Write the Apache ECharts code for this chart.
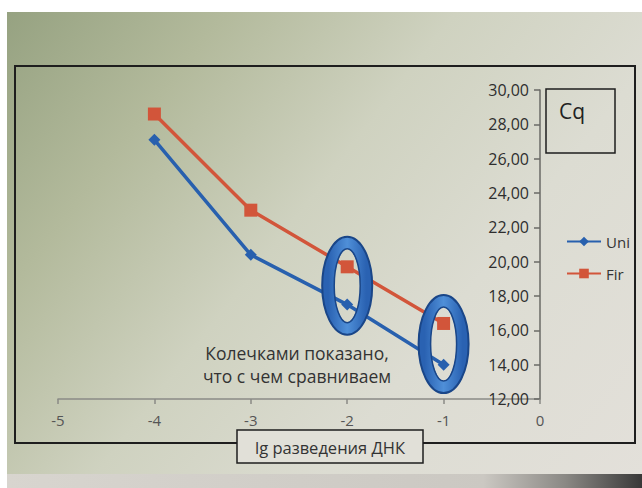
<!DOCTYPE html>
<html>
<head>
<meta charset="utf-8">
<script src="https://cdn.jsdelivr.net/npm/echarts@6/dist/echarts.min.js"></script>
<style>
  html, body { margin: 0; padding: 0; background: #ffffff; }
  #screen {
    position: absolute; left: 7px; top: 12px; width: 635px; height: 466px;
    background: linear-gradient(128deg, #96a281 0%, #b3ba9c 22%, #cfd2c0 45%, #dcdcd2 68%, #e3e0da 100%);
  }
  #bezel {
    position: absolute; left: 7px; top: 474px; width: 635px; height: 14px;
    background: linear-gradient(90deg, #d8d5cf 0%, #cbc8c2 75%, #8a8884 88%, #383838 100%);
  }
  #chart { position: absolute; left: 0; top: 0; width: 642px; height: 488px; }
</style>
</head>
<body>
<div id="screen"></div>
<div id="bezel"></div>
<div id="chart"></div>
<script>
// lg of DNA dilution
var xValues = [-4, -3, -2, -1]
// Cq values
var uniValues = [27.1, 20.4, 17.5, 14.0]
var firValues = [28.6, 23.0, 19.7, 16.4]
var seriesNames = ['Uni', 'Fir']
// points that are circled for comparison
var circledX = [-2, -1]

var fontFamily = '"Open Sans", "Noto Sans", sans-serif'

function pairs(vals) {
  return xValues.map(function(x, i) { return [x, vals[i]] })
}

var chart = echarts.init(document.getElementById('chart'), null, { renderer: 'svg' })

chart.setOption({
  animation: false,
  backgroundColor: 'transparent',
  textStyle: { fontFamily: fontFamily },
  grid: { left: 58, right: 102, top: 90, bottom: 89 },
  legend: {
    orient: 'vertical',
    left: 561,
    top: 229,
    itemWidth: 34,
    itemHeight: 12,
    itemGap: 17,
    textStyle: { fontSize: 15, color: '#333' },
    data: seriesNames
  },
  xAxis: {
    type: 'value',
    min: -5,
    max: 0,
    interval: 1,
    axisLine: { onZero: false, lineStyle: { color: '#8a8a86', width: 1.5 } },
    axisTick: { show: true, length: 5, lineStyle: { color: '#8a8a86', width: 1.5 } },
    axisLabel: { color: '#555', fontSize: 15, margin: 13 },
    splitLine: { show: false }
  },
  yAxis: {
    type: 'value',
    position: 'right',
    min: 12,
    max: 30,
    interval: 2,
    axisLine: { show: true, onZero: false, lineStyle: { color: '#6a6a66', width: 1.5 } },
    axisTick: { show: true, inside: true, length: 6, lineStyle: { color: '#6a6a66', width: 1.5 } },
    axisLabel: {
      inside: true,
      margin: 11,
      color: '#2e2e2e',
      fontSize: 16,
      formatter: function(v) { return v.toFixed(2).replace('.', ',') }
    },
    splitLine: { show: false }
  },
  series: [
    {
      name: seriesNames[0],
      type: 'line',
      data: pairs(uniValues),
      symbol: 'diamond',
      symbolSize: 12,
      z: 3,
      itemStyle: { color: '#2860ae' },
      lineStyle: { color: '#2860ae', width: 3.5 }
    },
    {
      name: seriesNames[1],
      type: 'line',
      data: pairs(firValues),
      symbol: 'rect',
      symbolSize: 13,
      z: 3,
      itemStyle: { color: '#d2553a' },
      lineStyle: { color: '#d2553a', width: 3.5 }
    }
  ]
})

// annotation shapes: chart frame, axis title boxes, rings and note
var graphics = [
  {
    type: 'rect', z: 0, silent: true,
    shape: { x: 15, y: 66, width: 620, height: 377 },
    style: { fill: 'none', stroke: '#1e1e1e', lineWidth: 2 }
  },
  {
    type: 'rect', z: 10, silent: true,
    shape: { x: 546, y: 89, width: 69, height: 64 },
    style: { fill: 'none', stroke: '#1e1e1e', lineWidth: 1.5 }
  },
  {
    type: 'text', z: 10, silent: true,
    x: 559, y: 100,
    style: { text: 'Cq', fontSize: 21, fill: '#222', fontFamily: fontFamily }
  },
  {
    type: 'rect', z: 10, silent: true,
    shape: { x: 237, y: 430, width: 186, height: 33 },
    style: { fill: '#e1e0d8', stroke: '#1e1e1e', lineWidth: 1.5 }
  },
  {
    type: 'text', z: 11, silent: true,
    x: 330, y: 447,
    style: {
      text: 'lg разведения ДНК', fontSize: 16.5, fill: '#333',
      align: 'center', verticalAlign: 'middle', fontFamily: fontFamily
    }
  },
  {
    type: 'text', z: 11, silent: true,
    x: 297, y: 364,
    style: {
      text: 'Колечками показано,\nчто с чем сравниваем', fontSize: 17.5, fill: '#333',
      lineHeight: 23, align: 'center', verticalAlign: 'middle', fontFamily: fontFamily
    }
  }
]

circledX.forEach(function(x) {
  var i = xValues.indexOf(x)
  var mid = (uniValues[i] + firValues[i]) / 2
  var p = chart.convertToPixel({ gridIndex: 0 }, [x, mid])
  graphics.push({
    type: 'ellipse', z: 20, silent: true,
    shape: { cx: p[0], cy: p[1], rx: 19, ry: 43 },
    style: {
      fill: 'none',
      stroke: new echarts.graphic.LinearGradient(0, 0, 1, 0, [
        { offset: 0, color: '#2a62b2' },
        { offset: 0.5, color: '#4f8fd8' },
        { offset: 1, color: '#2a62b2' }
      ]),
      lineWidth: 12
    }
  })
  graphics.push({
    type: 'ellipse', z: 21, silent: true,
    shape: { cx: p[0], cy: p[1], rx: 25, ry: 49 },
    style: { fill: 'none', stroke: '#1a4688', lineWidth: 2 }
  })
  graphics.push({
    type: 'ellipse', z: 21, silent: true,
    shape: { cx: p[0], cy: p[1], rx: 13, ry: 37 },
    style: { fill: 'none', stroke: '#1a4688', lineWidth: 1.5 }
  })
})

chart.setOption({ graphic: graphics })
</script>
</body>
</html>
